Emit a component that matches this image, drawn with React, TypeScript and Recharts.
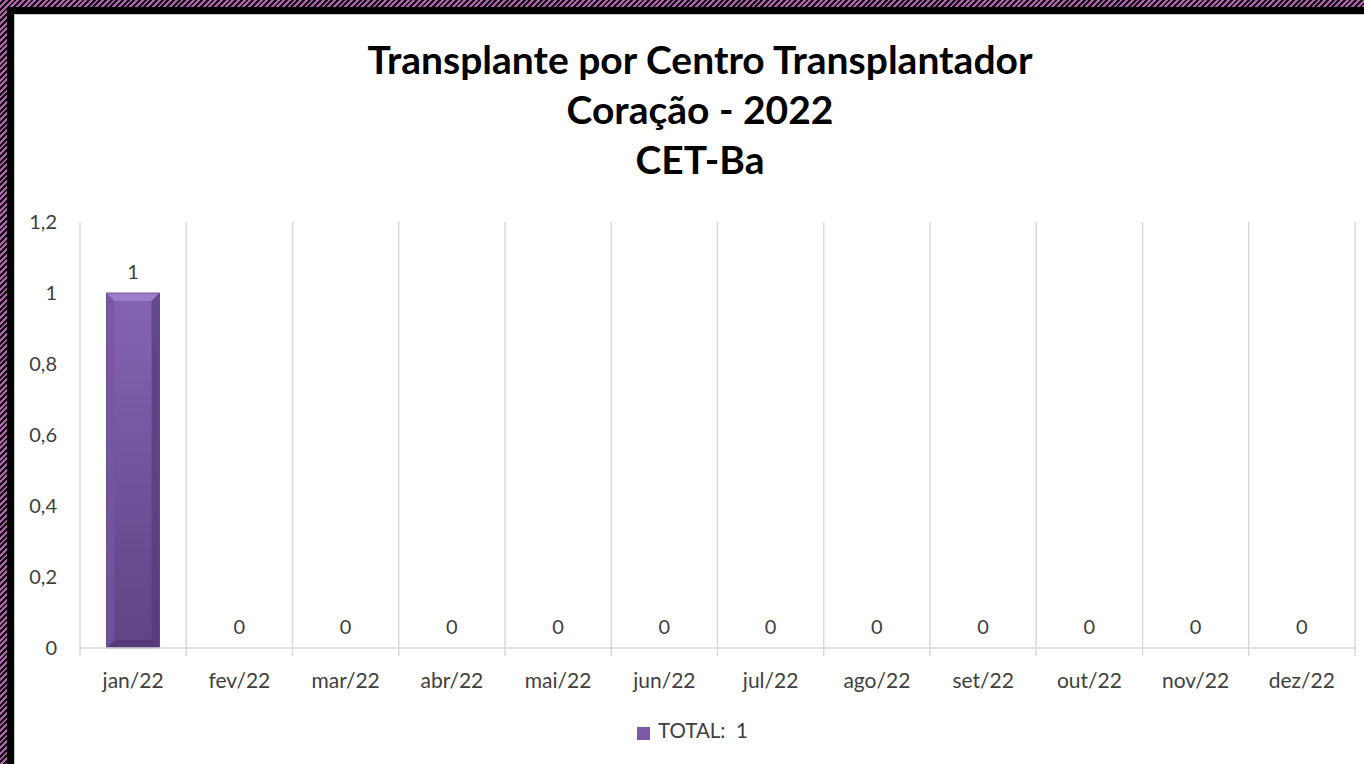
import React from "react";
import {
  BarChart,
  Bar,
  XAxis,
  YAxis,
  CartesianGrid,
  LabelList,
  Legend,
} from "recharts";

const months = [
  "jan/22", "fev/22", "mar/22", "abr/22", "mai/22", "jun/22",
  "jul/22", "ago/22", "set/22", "out/22", "nov/22", "dez/22",
];
const totals = [1, 0, 0, 0, 0, 0, 0, 0, 0, 0, 0, 0];
const yTicks = [0, 0.2, 0.4, 0.6, 0.8, 1, 1.2];
const seriesName = "TOTAL:  1";
const titleLines = [
  "Transplante por Centro Transplantador",
  "Coração - 2022",
  "CET-Ba",
];

const FONT = "Lato, 'Open Sans', sans-serif";
const TEXT = "#404040";
const GRID = "#d9d9d9";

const data = months.map((m, i) => ({ month: m, total: totals[i] }));

// bevelled column, like the Office "shape effect"
function BevelBar(props: any) {
  const { x, y, width, height } = props;
  if (!height || height <= 0) return null;
  const b = Math.min(8, width / 4, height / 4);
  return (
    <g>
      <rect x={x} y={y} width={width} height={height} fill="url(#barFill)" />
      <polygon
        points={`${x},${y} ${x + width},${y} ${x + width - b},${y + b} ${x + b},${y + b}`}
        fill="#9d7ecb"
      />
      <polygon
        points={`${x},${y} ${x + b},${y + b} ${x + b},${y + height - b} ${x},${y + height}`}
        fill="#7656a3"
        opacity={0.7}
      />
      <polygon
        points={`${x + width},${y} ${x + width - b},${y + b} ${x + width - b},${y + height - b} ${x + width},${y + height}`}
        fill="#553b7a"
        opacity={0.7}
      />
      <polygon
        points={`${x},${y + height} ${x + b},${y + height - b} ${x + width - b},${y + height - b} ${x + width},${y + height}`}
        fill="#4f376f"
        opacity={0.6}
      />
      <rect
        x={x}
        y={y}
        width={width}
        height={height}
        fill="none"
        stroke="#5a4080"
        strokeWidth={0.8}
      />
    </g>
  );
}

// grid lines sit on the category boundaries and poke 8px below the axis
function GridLine(props: any) {
  return (
    <line
      x1={props.x1}
      x2={props.x2}
      y1={props.y1}
      y2={props.y2 + 8}
      stroke={GRID}
      strokeWidth={1.5}
    />
  );
}

export default function App() {
  return (
    <div
      style={{
        position: "absolute",
        left: 0,
        top: 0,
        width: 1364,
        height: 764,
        overflow: "hidden",
        background:
          "repeating-linear-gradient(135deg, #b062ab 0px, #b062ab 2px, #151015 2px, #151015 4px)",
      }}
    >
      <div
        style={{
          position: "absolute",
          left: 7,
          top: 7,
          right: 0,
          bottom: 0,
          background: "#000",
        }}
      />
      <div
        style={{
          position: "absolute",
          left: 14,
          top: 14,
          right: 0,
          bottom: 0,
          background: "#fff",
          borderLeft: "1px solid #c8c8c8",
          borderTop: "1px solid #c8c8c8",
        }}
      />
      <div
        style={{
          position: "absolute",
          left: 0,
          top: 34,
          width: 1400,
          textAlign: "center",
          fontFamily: FONT,
          fontWeight: 700,
          fontSize: 39,
          lineHeight: "50px",
          color: "#000",
        }}
      >
        {titleLines.map((t) => (
          <div key={t}>{t}</div>
        ))}
      </div>
      <div style={{ position: "absolute", left: 0, top: 0 }}>
        <BarChart
          width={1364}
          height={764}
          data={data}
          barCategoryGap="25%"
          margin={{ top: 222, right: 9, bottom: 20, left: 20 }}
          style={{ fontFamily: FONT }}
        >
          <defs>
            <linearGradient id="barFill" x1="0" y1="0" x2="0" y2="1">
              <stop offset="0%" stopColor="#8565b3" />
              <stop offset="100%" stopColor="#5e4385" />
            </linearGradient>
          </defs>
          <CartesianGrid
            horizontal={false}
            vertical={<GridLine />}
            verticalCoordinatesGenerator={({ offset }: any) =>
              [...months.map((_, i) => i), months.length].map(
                (i) => offset.left + (i * offset.width) / months.length
              )
            }
          />
          <XAxis
            dataKey="month"
            height={70}
            axisLine={{ stroke: GRID, strokeWidth: 1.5 }}
            tickLine={false}
            tickSize={0}
            tickMargin={25}
            interval={0}
            tick={{ fill: TEXT, fontSize: 21, fontFamily: FONT }}
          />
          <YAxis
            domain={[0, 1.2]}
            ticks={yTicks}
            width={60}
            axisLine={false}
            tickLine={false}
            tickSize={0}
            tickMargin={23}
            tickFormatter={(v: number) => String(v).replace(".", ",")}
            tick={{ fill: TEXT, fontSize: 20, fontFamily: FONT }}
          />
          <Legend
            verticalAlign="bottom"
            align="center"
            height={26}
            iconType="square"
            iconSize={13}
            wrapperStyle={{ paddingLeft: 10 }}
            formatter={(value: string) => (
              <span
                style={{
                  color: TEXT,
                  fontSize: 20.5,
                  whiteSpace: "pre",
                  fontFamily: FONT,
                  marginLeft: 4,
                }}
              >
                {value}
              </span>
            )}
          />
          <Bar
            dataKey="total"
            name={seriesName}
            fill="#7a5aa8"
            legendType="square"
            shape={<BevelBar />}
            isAnimationActive={false}
          >
            <LabelList
              dataKey="total"
              position="top"
              offset={14}
              fill={TEXT}
              fontSize={20}
              fontFamily={FONT}
            />
          </Bar>
        </BarChart>
      </div>
    </div>
  );
}
